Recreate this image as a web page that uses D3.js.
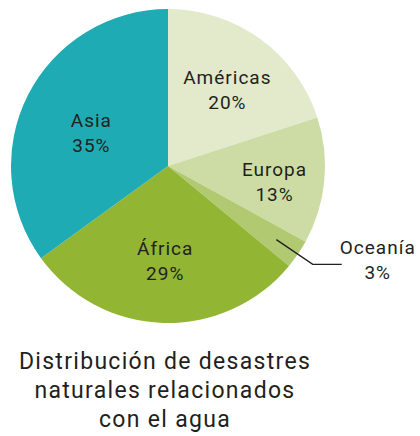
<!DOCTYPE html>
<html>
<head>
<meta charset="utf-8">
<script src="https://cdn.jsdelivr.net/npm/d3@7"></script>
<style>
  body { margin: 0; background: #fff; }
  text { font-family: Roboto, "Noto Sans", sans-serif; fill: #231f20; font-weight: 400; }
</style>
</head>
<body>
<div id="chart-area"></div>
<script>
// data
let regions = ["Américas", "Europa", "Oceanía", "África", "Asia"];
let shares = [20, 13, 3, 29, 35];
let colors = ["#e2eacb", "#cddca4", "#b1c970", "#92b533", "#1fabb3"];
let titleLines = ["Distribución de desastres", "naturales relacionados", "con el agua"];

let width = 420,
	height = 436;

let cx = 168, cy = 166, radius = 157;
// distance of each label baseline from centre (Oceanía is placed outside)
let labelDist = [101, 107, 0, 89, 86];

let svg = d3.select("#chart-area")
			.append("svg")
			.attr("width", width)
			.attr("height", height);

let data = regions.map((r, i) => ({ region: r, value: shares[i] }));

let pie = d3.pie()
			.sort(null)
			.value(d => d.value);

let arcs = pie(data);

let arc = d3.arc()
			.innerRadius(0)
			.outerRadius(radius);

let g = svg.append("g")
			.attr("transform", "translate(" + cx + "," + cy + ")");

g.selectAll("path")
	.data(arcs)
	.enter()
	.append("path")
	.attr("d", arc)
	.attr("fill", d => colors[d.index]);

// inside labels
let inside = arcs.filter(d => d.data.region !== "Oceanía");

let labels = g.selectAll("text.lbl")
			.data(inside)
			.enter()
			.append("text")
			.attr("class", "lbl")
			.attr("text-anchor", "middle")
			.attr("font-size", 19)
			.attr("letter-spacing", 1)
			.attr("transform", d => {
				let r = labelDist[d.index];
				let a = (d.startAngle + d.endAngle) / 2;
				return "translate(" + (Math.sin(a) * r) + "," + (-Math.cos(a) * r) + ")";
			});

labels.append("tspan")
	.attr("x", 0)
	.attr("y", 0)
	.text(d => d.data.region);

labels.append("tspan")
	.attr("x", 0)
	.attr("y", 25)
	.text(d => d.data.value + "%");

// Oceanía: leader line and outside label
let oc = arcs.find(d => d.data.region === "Oceanía");
let ocA = (oc.startAngle + oc.endAngle) / 2;
let p0 = [Math.sin(ocA) * (radius - 26), -Math.cos(ocA) * (radius - 26)];
let p1 = [Math.sin(ocA) * (radius + 18), -Math.cos(ocA) * (radius + 18)];
let p2 = [p1[0] + 29, p1[1]];

g.append("polyline")
	.attr("points", [p0, p1, p2].map(p => p.join(",")).join(" "))
	.attr("fill", "none")
	.attr("stroke", "#231f20")
	.attr("stroke-width", 1.4);

let ocText = g.append("text")
			.attr("text-anchor", "middle")
			.attr("font-size", 19)
			.attr("letter-spacing", 1)
			.attr("transform", "translate(" + (p2[0] + 36) + "," + p2[1] + ")");

ocText.append("tspan").attr("x", 0).attr("y", -10).text(oc.data.region);
ocText.append("tspan").attr("x", 0).attr("y", 15).text(oc.data.value + "%");

// title
svg.append("g")
	.selectAll("text")
	.data(titleLines)
	.enter()
	.append("text")
	.attr("x", 165)
	.attr("y", (d, i) => 369 + i * 29)
	.attr("text-anchor", "middle")
	.attr("font-size", 23)
	.attr("letter-spacing", 1.3)
	.text(d => d);
</script>
</body>
</html>
